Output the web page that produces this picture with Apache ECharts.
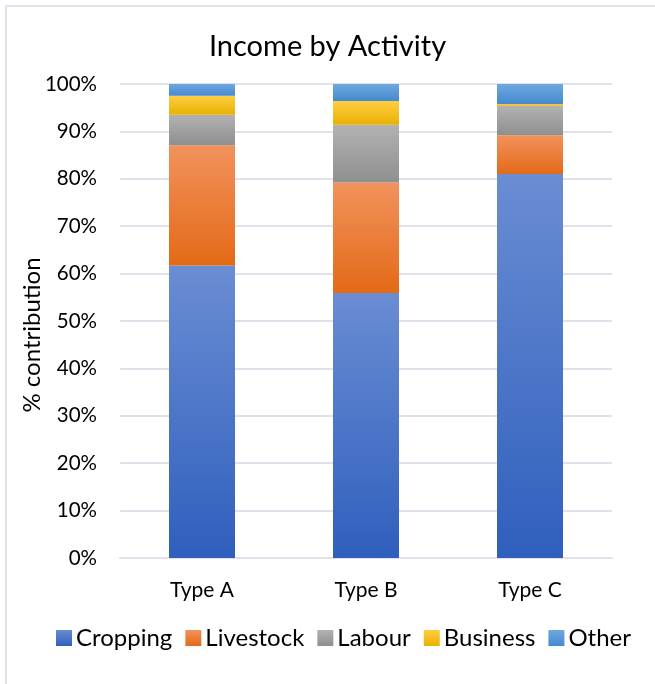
<!DOCTYPE html>
<html>
<head>
<meta charset="utf-8">
<script src="https://cdn.jsdelivr.net/npm/echarts@6/dist/echarts.min.js"></script>
<style>
  html, body { margin: 0; padding: 0; background: #fff; }
  #chart { width: 655px; height: 684px; }
  #frame { position: absolute; left: 5px; top: 5px; width: 660px; height: 690px;
    border-left: 2px solid #dfe2ea; border-top: 2px solid #dfe2ea; pointer-events: none; }
</style>
</head>
<body>
<div id="chart"></div>
<div id="frame"></div>
<script>
const categories = ["Type A", "Type B", "Type C"];
const cropping = [61.7, 55.9, 81.0];
const livestock = [25.4, 23.3, 8.2];
const labour = [6.4, 12.2, 6.2];
const business = [4.0, 5.0, 0.4];
const other = [2.5, 3.6, 4.2];

const fontFamily = "Lato, 'Open Sans', sans-serif";

function grad(top, bottom) {
  return new echarts.graphic.LinearGradient(0, 0, 0, 1, [
    { offset: 0, color: top },
    { offset: 1, color: bottom },
  ]);
}

function makeSeries(name, data, top, bottom) {
  return {
    name: name,
    type: "bar",
    stack: "total",
    data: data,
    barWidth: 66,
    itemStyle: { color: grad(top, bottom) },
  };
}

const chart = echarts.init(document.getElementById("chart"));

const option = {
  animation: false,
  textStyle: { fontFamily: fontFamily, color: "#000" },
  title: {
    text: "Income by Activity",
    left: "center",
    top: 27,
    textStyle: { fontSize: 29, fontWeight: "normal", color: "#000", fontFamily: fontFamily },
  },
  grid: { left: 120, right: 43, top: 84, bottom: 126 },
  legend: {
    bottom: 29,
    left: 51,
    icon: "rect",
    itemWidth: 16,
    itemHeight: 16,
    itemGap: 13,
    textStyle: { fontSize: 24, color: "#000", fontFamily: fontFamily, padding: [0, 0, 0, -1] },
    data: ["Cropping", "Livestock", "Labour", "Business", "Other"],
  },
  xAxis: {
    type: "category",
    data: categories,
    axisTick: { show: false },
    axisLine: { lineStyle: { color: "#dfe2ea", width: 2 } },
    axisLabel: { fontSize: 21, color: "#000", margin: 22 },
  },
  yAxis: {
    type: "value",
    min: 0,
    max: 100,
    interval: 10,
    name: "% contribution",
    nameLocation: "middle",
    nameGap: 76,
    nameMoveOverlap: false,
    nameTextStyle: { fontSize: 24, color: "#000", fontFamily: fontFamily, padding: [0, 28, 0, 0] },
    axisLabel: { fontSize: 20.5, color: "#000", margin: 23, formatter: "{value}%" },
    splitLine: { lineStyle: { color: "#dfe2ea", width: 2 } },
  },
  series: [
    makeSeries("Cropping", cropping, "#6a8dd3", "#2f5fbd"),
    makeSeries("Livestock", livestock, "#f2925c", "#e36a17"),
    makeSeries("Labour", labour, "#b2b2b2", "#8f8f8f"),
    makeSeries("Business", business, "#ffcd43", "#e9b100"),
    makeSeries("Other", other, "#6ea8e0", "#4589cf"),
  ],
};

chart.setOption(option);
window.addEventListener("resize", () => {
  chart.resize();
});
</script>
</body>
</html>
